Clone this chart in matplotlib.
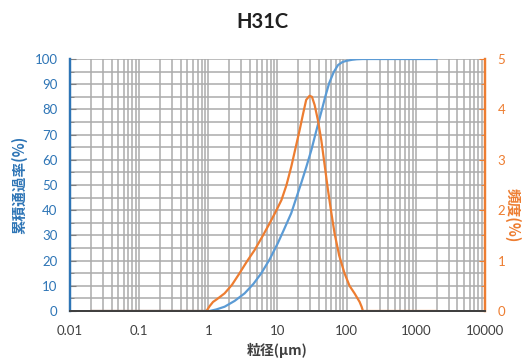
import matplotlib.pyplot as plt
import matplotlib.ticker as mticker

plt.rcParams['font.family'] = ['Lato', 'Noto Sans CJK JP', 'DejaVu Sans']

title = 'H31C'
xlabel = '粒径(μm)'
ylabel_left = '累積通過率(%)'
ylabel_right = '頻度(%)'

# 累積通過率 (blue, left axis)
cum_x = [0.02, 1.04, 1.3, 1.72, 2.4, 3.35, 4.5, 5.84, 7.7, 10.1, 12.5, 15.8, 18.5, 22, 26,
         30.9, 36, 43, 49, 56, 65, 75, 87, 100, 120, 140, 170, 2000]
cum_y = [0, 0, 0.6, 1.7, 4.0, 7.0, 10.8, 15, 20.5, 26.9, 32.5, 38.8, 44.5, 50.7, 57,
         63.9, 71, 79, 85, 90.5, 94.8, 97.6, 98.8, 99.3, 99.7, 99.9, 100, 100]

# 頻度 (orange, right axis)
psd_x = [0.02, 0.94, 1.05, 1.17, 1.35, 1.72, 2.2, 2.83, 3.6, 4.67, 6, 7.7, 9.5, 11.4, 13.5,
         15.8, 18, 20.9, 23.5, 26, 29.1, 31.5, 34.4, 38.5, 43, 48, 53.7, 60, 66.9, 78, 93,
         110, 130, 154, 165, 172, 2000]
psd_y = [0, 0, 0.1, 0.18, 0.24, 0.35, 0.52, 0.75, 0.98, 1.21, 1.47, 1.74, 1.98, 2.2, 2.5,
         2.86, 3.2, 3.59, 3.92, 4.19, 4.27, 4.25, 4.09, 3.78, 3.39, 2.9, 2.4, 1.95, 1.54, 1.1, 0.75,
         0.5, 0.35, 0.18, 0.08, 0, 0]

blue = '#5B9BD5'; orange = '#ED7D31'
blue_txt = '#2E75B6'; orange_txt = '#ED7D31'

fig = plt.figure(figsize=(5.25, 3.62), dpi=100)
ax = fig.add_axes([0.1333, 0.1409, 0.7905, 0.6961])
ax2 = ax.twinx()

ax.plot(cum_x, cum_y, color=blue, lw=1.6, solid_capstyle='round')
ax2.plot(psd_x, psd_y, color=orange, lw=1.6, solid_capstyle='round')

ax.set_xscale('log')
ax.set_xlim(0.01, 10000)
ax.set_ylim(0, 100)
ax2.set_ylim(0, 5)

ax.xaxis.set_major_locator(mticker.FixedLocator([0.01, 0.1, 1, 10, 100, 1000, 10000]))
ax.xaxis.set_minor_locator(mticker.LogLocator(base=10, subs=range(2, 10), numticks=20))
ax.xaxis.set_minor_formatter(mticker.NullFormatter())
ax.xaxis.set_major_formatter(mticker.FuncFormatter(lambda v, p: '%g' % v))
ax.yaxis.set_major_locator(mticker.MultipleLocator(10))
ax.yaxis.set_minor_locator(mticker.MultipleLocator(5))
ax2.yaxis.set_major_locator(mticker.MultipleLocator(1))
ax2.yaxis.set_minor_locator(mticker.MultipleLocator(0.5))

ax.grid(True, which='both', color='#ABABAB', lw=1.1)
ax.set_axisbelow(True)

ax.tick_params(axis='x', which='both', length=0, labelsize=9.5, labelcolor='#404040', pad=10)
ax.tick_params(axis='y', which='major', direction='in', length=4, color='#7F7F7F',
               labelsize=9.5, labelcolor=blue_txt, pad=9)
ax.tick_params(axis='y', which='minor', direction='in', length=3, color='#7F7F7F')
ax2.tick_params(axis='y', which='major', direction='in', length=4, color=orange,
                labelsize=9.5, labelcolor=orange_txt, pad=9)
ax2.tick_params(axis='y', which='minor', direction='in', length=3, color=orange)

for a in (ax, ax2):
    a.spines['top'].set_visible(False)
    a.spines['left'].set_color(blue_txt)
    a.spines['left'].set_linewidth(1.6)
    a.spines['right'].set_color(orange)
    a.spines['right'].set_linewidth(1.6)
    a.spines['bottom'].set_color('#404040')
    a.spines['bottom'].set_linewidth(1.4)

ax.set_xlabel(xlabel, fontsize=10, fontweight='bold', color='#404040',
              family=['Noto Sans CJK JP'], labelpad=4)
ax.set_ylabel(ylabel_left, fontsize=10.5, fontweight='bold', color=blue_txt,
              family=['Noto Sans CJK JP'], va='center')
ax.yaxis.set_label_coords(-0.122, 0.5)
ax2.set_ylabel(ylabel_right, fontsize=10.5, fontweight='bold', color=orange_txt,
               family=['Noto Sans CJK JP'], rotation=-90, va='center')
ax2.yaxis.set_label_coords(1.066, 0.38)
fig.text(0.5, 0.94, title, ha='center', va='center', fontsize=14.5, fontweight='bold',
         color='#202020')

fig.savefig('out.png', dpi=100)
